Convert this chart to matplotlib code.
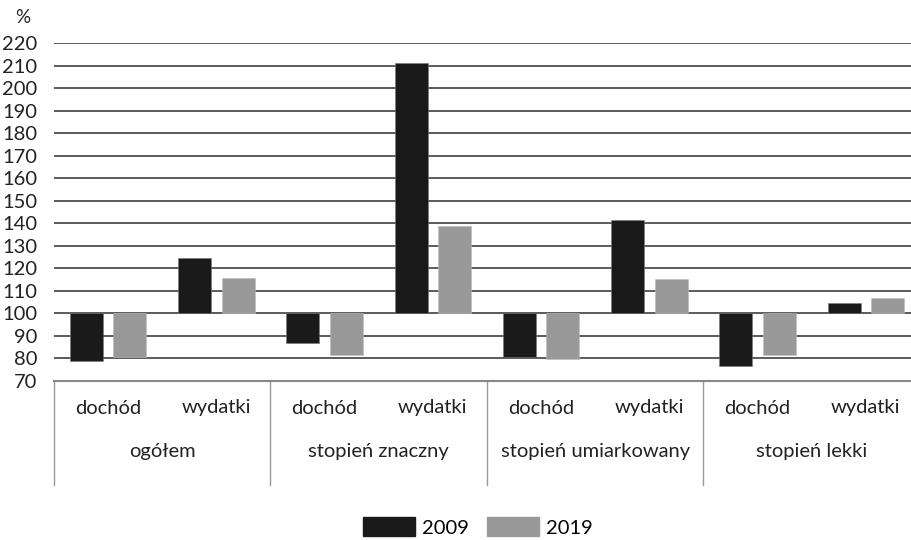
import matplotlib.pyplot as plt
import numpy as np
from matplotlib.patches import Patch
from matplotlib.transforms import blended_transform_factory

# index values (%), 100 = reference level
groups = ['ogółem', 'stopień znaczny', 'stopień umiarkowany', 'stopień lekki']
items = ['dochód', 'wydatki']
years = ['2009', '2019']
vals_2009 = [78.7, 124.6, 86.8, 211.2, 80.5, 141.5, 76.6, 104.4]
vals_2019 = [80.6, 115.7, 81.5, 139.0, 79.9, 115.3, 81.6, 106.8]
yticks = list(range(70, 230, 10))

BLACK = '#1a1a1a'
GRAY = '#999999'
GRID = '#404040'

plt.rcParams['font.family'] = ['Lato', 'DejaVu Sans']
font_size = 14.5

fig = plt.figure(figsize=(9.12, 5.4), dpi=100)
W, H = 912, 540
left, right, top, bottom = 54, 920, 43, 381
ax = fig.add_axes([left / W, 1 - bottom / H, (right - left) / W, (bottom - top) / H])

x = np.arange(len(vals_2009)) + 0.5
off = 0.2
width = 0.305
base = 100
ax.bar(x - off, np.array(vals_2009) - base, width, bottom=base, color=BLACK,
       edgecolor='#777777', linewidth=0.4, zorder=3)
ax.bar(x + off, np.array(vals_2019) - base, width, bottom=base, color=GRAY,
       edgecolor='#bbbbbb', linewidth=0.4, zorder=3)

ax.set_xlim(0, len(vals_2009))
ax.set_ylim(70, 220)
for y in yticks[1:]:
    ax.axhline(y, color=GRID, linewidth=1.2, zorder=1)

ax.set_yticks(yticks)
ax.set_yticklabels([str(t) for t in yticks], fontsize=font_size, color='#222222')
ax.tick_params(axis='y', length=0, pad=12)
ax.set_xticks([])
for s in ['left', 'right', 'top']:
    ax.spines[s].set_visible(False)
ax.spines['bottom'].set_color('#888888')
ax.spines['bottom'].set_linewidth(1.5)

ax.text(-0.045, 1.075, '%', transform=ax.transAxes, fontsize=font_size - 1,
        color='#222222', ha='left', va='center')

# two-level category labels below the axis
trans = blended_transform_factory(ax.transData, ax.transAxes)
px = 1.0 / (bottom - top)
for i, xi in enumerate(x):
    ax.text(xi, -(408 - bottom) * px, items[i % 2], transform=trans,
            ha='center', va='center', fontsize=font_size, color='#222222')
for g, name in enumerate(groups):
    ax.text(2 * g + 1, -(452 - bottom) * px, name, transform=trans,
            ha='center', va='center', fontsize=font_size, color='#222222')
for g in range(len(groups) + 1):
    ax.plot([2 * g, 2 * g], [0, -(485 - bottom) * px], transform=trans,
            color='#999999', linewidth=1.0, clip_on=False)

handles = [Patch(facecolor=BLACK, edgecolor=BLACK),
           Patch(facecolor=GRAY, edgecolor=GRAY)]
fig.legend(handles, years, loc='center', bbox_to_anchor=(0.524, 1 - 527 / H),
           ncol=2, frameon=False, fontsize=font_size, handlelength=2.6,
           handleheight=1.05, handletextpad=0.35, columnspacing=0.9)

fig.savefig('out.png', dpi=100)
